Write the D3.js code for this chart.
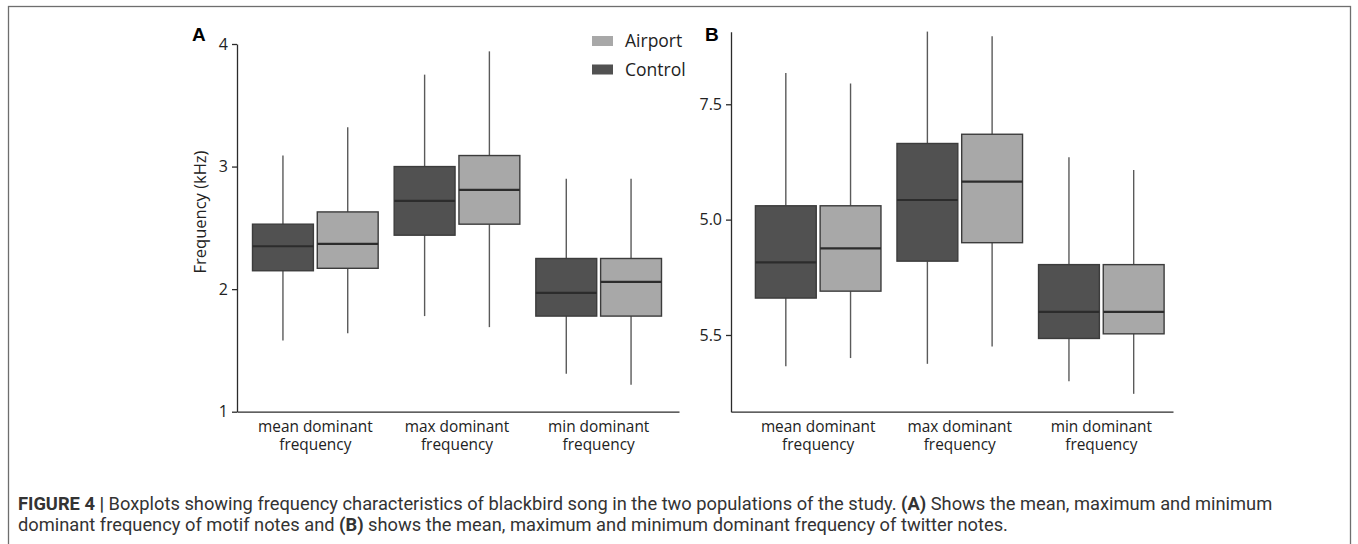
<!DOCTYPE html>
<html>
<head>
<meta charset="utf-8">
<script src="https://cdn.jsdelivr.net/npm/d3@7"></script>
<style>
  html, body { margin: 0; padding: 0; background: #fff; }
  svg { display: block; }
</style>
</head>
<body>
<svg id="chart" width="1358" height="544"></svg>
<script>
// ---------------- DATA ----------------
const categories = ["mean dominant frequency", "max dominant frequency", "min dominant frequency"];
const categoryLines = [["mean dominant", "frequency"], ["max dominant", "frequency"], ["min dominant", "frequency"]];
const groups = ["Control", "Airport"];
const legendOrder = ["Airport", "Control"];

// each entry: [lower whisker, Q1, median, Q3, upper whisker]
const motifControl = [[1.58, 2.15, 2.35, 2.53, 3.09], [1.78, 2.44, 2.72, 3.00, 3.75], [1.31, 1.78, 1.97, 2.25, 2.90]];
const motifAirport = [[1.64, 2.17, 2.37, 2.63, 3.32], [1.69, 2.53, 2.81, 3.09, 3.94], [1.22, 1.78, 2.06, 2.25, 2.90]];
const twitterControl = [[5.23, 5.82, 6.13, 6.62, 7.77], [5.25, 6.14, 6.67, 7.16, 8.13], [5.10, 5.47, 5.70, 6.11, 7.04]];
const twitterAirport = [[5.30, 5.88, 6.25, 6.62, 7.68], [5.40, 6.30, 6.83, 7.24, 8.09], [4.99, 5.51, 5.70, 6.11, 6.93]];

const motifTicks = [1, 2, 3, 4];
const motifTickLabels = ["1", "2", "3", "4"];
const twitterTicks = [5.5, 6.5, 7.5];
const twitterTickLabels = ["5.5", "5.0", "7.5"];

const yLabelA = "Frequency (kHz)";
const captionBold1 = "FIGURE 4 |";
const captionLine1 = " Boxplots showing frequency characteristics of blackbird song in the two populations of the study. ";
const captionBoldA = "(A)";
const captionLine1b = " Shows the mean, maximum and minimum";
const captionLine2a = "dominant frequency of motif notes and ";
const captionBoldB = "(B)";
const captionLine2b = " shows the mean, maximum and minimum dominant frequency of twitter notes.";

// ---------------- STYLE ----------------
const colors = { Control: "#515151", Airport: "#a8a8a8" };
const FONT = "'Open Sans', 'Noto Sans', sans-serif";

const svg = d3.select("#chart");

// frame
svg.append("rect")
  .attr("x", 8.5).attr("y", 6.5).attr("width", 1342).attr("height", 540)
  .attr("fill", "none").attr("stroke", "#6e6e6e").attr("stroke-width", 1.3);

function drawPanel(opts) {
  const g = svg.append("g");
  const y = d3.scaleLinear().domain(opts.yDomain).range([opts.bottom, opts.top]);
  const x = d3.scaleBand().domain(categories).range(opts.xBand).padding(0);
  const xi = d3.scaleBand().domain(groups).range([8, x.bandwidth() - 8]).paddingInner(0.06);

  // y axis
  const yAxis = d3.axisLeft(y)
    .tickValues(opts.ticks)
    .tickFormat((d, i) => opts.tickLabels[i])
    .tickSizeInner(5).tickSizeOuter(0).tickPadding(4);
  const ya = g.append("g").attr("transform", `translate(${opts.axisX},0)`).call(yAxis);
  ya.select(".domain").attr("stroke", "#2b2b2b").attr("stroke-width", 1.3);
  ya.selectAll(".tick line").attr("stroke", "#2b2b2b").attr("stroke-width", 1.3);
  ya.selectAll(".tick text").attr("font-family", FONT).attr("font-size", 16).attr("fill", "#222");

  // x axis line (no ticks)
  const xAxis = d3.axisBottom(d3.scaleLinear().domain([0, 1]).range([opts.axisX, opts.xEnd]))
    .tickValues([]).tickSizeOuter(0);
  const xa = g.append("g").attr("transform", `translate(0,${opts.bottom})`).call(xAxis);
  xa.select(".domain").attr("stroke", "#2b2b2b").attr("stroke-width", 1.3);

  // category labels
  categories.forEach((c, i) => {
    const t = g.append("text")
      .attr("x", x(c) + x.bandwidth() / 2)
      .attr("y", opts.bottom + 20)
      .attr("text-anchor", "middle")
      .attr("font-family", FONT).attr("font-size", 15.4).attr("fill", "#222");
    categoryLines[i].forEach((ln, j) => {
      t.append("tspan").attr("x", x(c) + x.bandwidth() / 2).attr("dy", j === 0 ? 0 : 18.5).text(ln);
    });
  });

  // boxes
  const series = { Control: opts.control, Airport: opts.airport };
  groups.forEach(grp => {
    series[grp].forEach((s, i) => {
      const [lo, q1, med, q3, hi] = s;
      const x0 = x(categories[i]) + xi(grp);
      const w = xi.bandwidth();
      const cx = x0 + w / 2;
      g.append("line").attr("x1", cx).attr("x2", cx).attr("y1", y(hi)).attr("y2", y(q3))
        .attr("stroke", "#5a5a5a").attr("stroke-width", 1.4);
      g.append("line").attr("x1", cx).attr("x2", cx).attr("y1", y(q1)).attr("y2", y(lo))
        .attr("stroke", "#5a5a5a").attr("stroke-width", 1.4);
      g.append("rect").attr("x", x0).attr("y", y(q3)).attr("width", w).attr("height", y(q1) - y(q3))
        .attr("fill", colors[grp]).attr("stroke", "#3c3c3c").attr("stroke-width", 1.4);
      g.append("line").attr("x1", x0).attr("x2", x0 + w).attr("y1", y(med)).attr("y2", y(med))
        .attr("stroke", "#2c2c2c").attr("stroke-width", 2.2);
    });
  });

  // panel letter
  g.append("text").attr("x", opts.letterX).attr("y", opts.letterY)
    .attr("font-family", "'Liberation Sans', Arial, sans-serif").attr("font-weight", "bold")
    .attr("font-size", 19).attr("fill", "#000").text(opts.letter);
  return { g, y, x };
}

const A = drawPanel({
  yDomain: [1, 4], ticks: motifTicks, tickLabels: motifTickLabels,
  top: 44, bottom: 411.7, axisX: 237, xEnd: 679, xBand: [244.5, 669.5],
  control: motifControl, airport: motifAirport, letter: "A", letterX: 192, letterY: 41
});
const B = drawPanel({
  yDomain: [4.835, 8.129], ticks: twitterTicks, tickLabels: twitterTickLabels,
  top: 31.7, bottom: 411.7, axisX: 731, xEnd: 1173, xBand: [747.4, 1172.1],
  control: twitterControl, airport: twitterAirport, letter: "B", letterX: 705, letterY: 41
});

// y label panel A
svg.append("text")
  .attr("transform", "translate(206,212) rotate(-90)")
  .attr("text-anchor", "middle")
  .attr("font-family", FONT).attr("font-size", 16.5).attr("fill", "#222")
  .text(yLabelA);

// legend
const leg = svg.append("g").attr("transform", "translate(592,36)");
legendOrder.forEach((grp, i) => {
  leg.append("rect").attr("x", 0).attr("y", i * 28.5).attr("width", 21).attr("height", 10)
    .attr("fill", colors[grp]);
  leg.append("text").attr("x", 33).attr("y", i * 28.5 + 11)
    .attr("font-family", FONT).attr("font-size", 17.5).attr("fill", "#222").text(grp);
});

// caption
const capFont = "'Roboto', 'Liberation Sans', sans-serif";
const cap1 = svg.append("text").attr("x", 18).attr("y", 509.5)
  .attr("font-family", capFont).attr("font-size", 18.3).attr("fill", "#333");
cap1.append("tspan").attr("font-weight", "bold").text(captionBold1);
cap1.append("tspan").text(captionLine1);
cap1.append("tspan").attr("font-weight", "bold").text(captionBoldA);
cap1.append("tspan").text(captionLine1b);
const cap2 = svg.append("text").attr("x", 18).attr("y", 531)
  .attr("font-family", capFont).attr("font-size", 18.3).attr("fill", "#333");
cap2.append("tspan").text(captionLine2a);
cap2.append("tspan").attr("font-weight", "bold").text(captionBoldB);
cap2.append("tspan").text(captionLine2b);
</script>
</body>
</html>
